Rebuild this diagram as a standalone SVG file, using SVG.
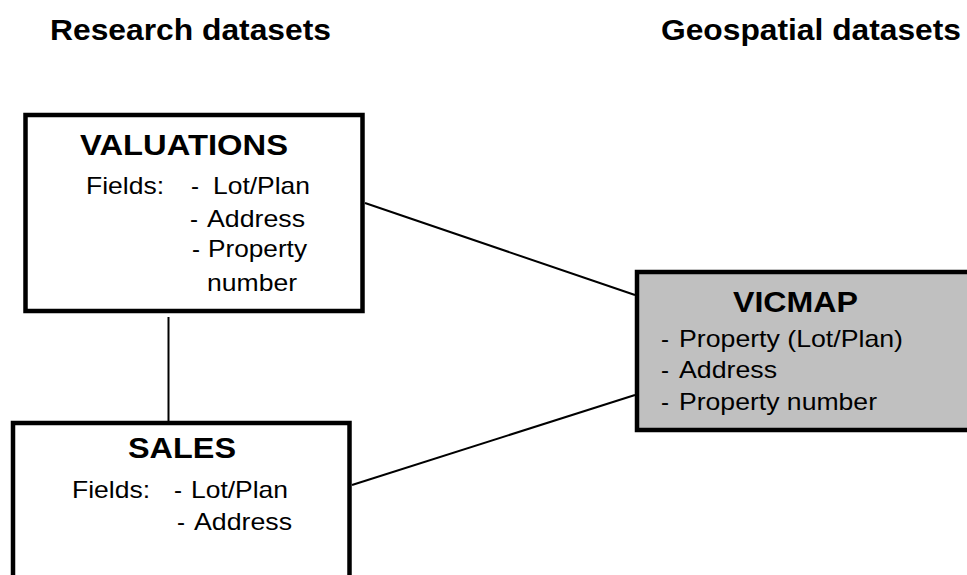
<svg xmlns="http://www.w3.org/2000/svg" width="967" height="575" viewBox="0 0 967 575">
<style>
text{font-family:"Liberation Sans",Arial,sans-serif;fill:#000}
.t{font-size:29px;font-weight:bold}
.b{font-size:24px}
.box{fill:#fff;stroke:#000;stroke-width:4.5}
.gbox{fill:#c0c0c0;stroke:#000;stroke-width:4.5}
.con{stroke:#000;stroke-width:2;fill:none}
</style>
<rect width="967" height="575" fill="#fff"/>
<g id="headers">
<text class="t" x="50" y="40" textLength="281" lengthAdjust="spacingAndGlyphs">Research datasets</text>
<text class="t" x="661" y="40" textLength="300" lengthAdjust="spacingAndGlyphs">Geospatial datasets</text>
</g>
<g id="connectors">
<line class="con" x1="168.5" y1="317" x2="168.5" y2="421"/>
<line class="con" x1="365" y1="203" x2="635" y2="295"/>
<line class="con" x1="352" y1="485" x2="635" y2="395"/>
</g>
<g id="valuations">
<rect class="box" x="25.5" y="115" width="337" height="196"/>
<text class="t" x="80" y="155" textLength="208" lengthAdjust="spacingAndGlyphs">VALUATIONS</text>
<text class="b" x="86" y="194" textLength="78" lengthAdjust="spacingAndGlyphs">Fields:</text>
<text class="b" x="191" y="194">-</text>
<text class="b" x="213" y="194" textLength="97" lengthAdjust="spacingAndGlyphs">Lot/Plan</text>
<text class="b" x="190" y="227">-</text>
<text class="b" x="207" y="227" textLength="98" lengthAdjust="spacingAndGlyphs">Address</text>
<text class="b" x="192" y="257">-</text>
<text class="b" x="208" y="257" textLength="99" lengthAdjust="spacingAndGlyphs">Property</text>
<text class="b" x="207" y="291" textLength="90" lengthAdjust="spacingAndGlyphs">number</text>
</g>
<g id="sales">
<rect class="box" x="13" y="423" width="336.5" height="170"/>
<text class="t" x="128" y="458" textLength="108" lengthAdjust="spacingAndGlyphs">SALES</text>
<text class="b" x="72" y="498" textLength="78" lengthAdjust="spacingAndGlyphs">Fields:</text>
<text class="b" x="174" y="498">-</text>
<text class="b" x="191" y="498" textLength="97" lengthAdjust="spacingAndGlyphs">Lot/Plan</text>
<text class="b" x="177" y="530">-</text>
<text class="b" x="194" y="530" textLength="98" lengthAdjust="spacingAndGlyphs">Address</text>
</g>
<g id="vicmap">
<rect class="gbox" x="637" y="272" width="345" height="158"/>
<text class="t" x="733" y="312" textLength="125" lengthAdjust="spacingAndGlyphs">VICMAP</text>
<text class="b" x="661" y="347">-</text>
<text class="b" x="679" y="347" textLength="224" lengthAdjust="spacingAndGlyphs">Property (Lot/Plan)</text>
<text class="b" x="661" y="378">-</text>
<text class="b" x="679" y="378" textLength="98" lengthAdjust="spacingAndGlyphs">Address</text>
<text class="b" x="661" y="410">-</text>
<text class="b" x="679" y="410" textLength="198" lengthAdjust="spacingAndGlyphs">Property number</text>
</g>
</svg>
